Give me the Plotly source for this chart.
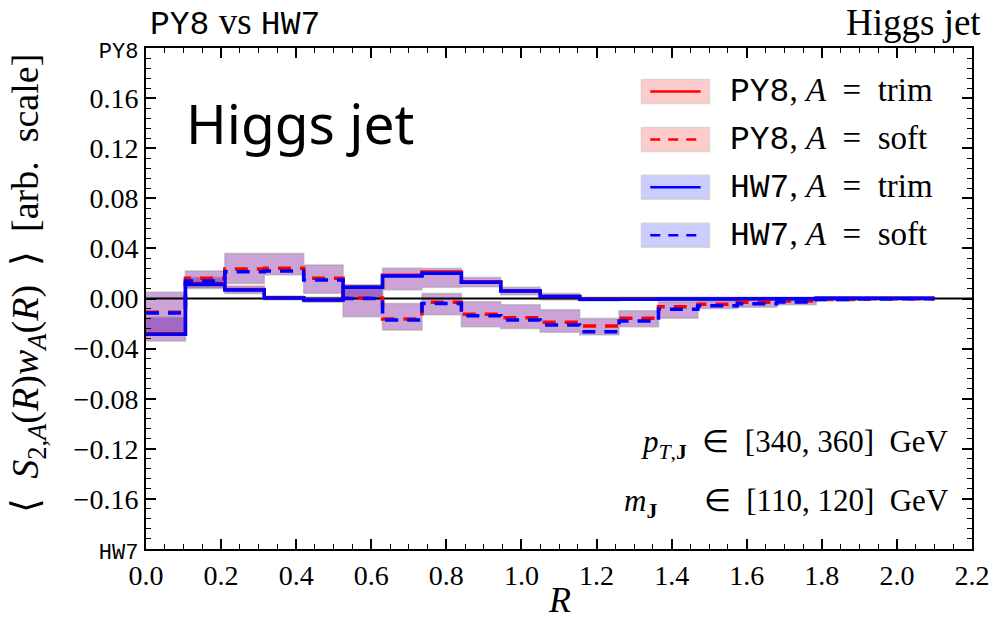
import plotly.graph_objects as go

# ---------------- data ----------------
edges = [0.0, 0.105, 0.21, 0.315, 0.42, 0.525, 0.63, 0.735, 0.84, 0.945, 1.05,
         1.155, 1.26, 1.365, 1.47, 1.575, 1.68, 1.785, 1.89, 1.995, 2.1]

py8_trim = [-0.0280, 0.0120, 0.0072, 0.0005, -0.0010, 0.0090, 0.0185, 0.0212, 0.0133, 0.0062,
            0.0016, -0.0004, -0.0004, -0.0003, -0.0002, -0.0001, -0.0001, 0.0002, 0.0001, 0.0001]
py8_soft = [-0.0110, 0.0161, 0.0235, 0.0241, 0.0161, 0.0003, -0.0163, -0.0030, -0.0126, -0.0153,
            -0.0190, -0.0219, -0.0158, -0.0065, -0.0046, -0.0030, -0.0020, -0.0005, -0.0002, -0.0001]
hw7_trim = [-0.0285, 0.0113, 0.0068, 0.0003, -0.0012, 0.0089, 0.0179, 0.0201, 0.0129, 0.0060,
            0.0015, -0.0005, -0.0005, -0.0004, -0.0003, -0.0002, -0.0001, 0.0002, 0.0001, 0.0001]
hw7_soft = [-0.0116, 0.0139, 0.0214, 0.0219, 0.0147, 0.0000, -0.0171, -0.0039, -0.0137, -0.0171,
            -0.0211, -0.0265, -0.0179, -0.0086, -0.0057, -0.0041, -0.0028, -0.0008, -0.0003, -0.0002]

soft_hi = [0.0050, 0.0220, 0.0360, 0.0360, 0.0267, 0.0090, -0.0040, 0.0040, -0.0025, -0.0050,
           -0.0090, -0.0160, -0.0098, -0.0025, -0.0020, 0.0000, 0.0000, 0.0010, 0.0005, 0.0003]
soft_lo = [-0.0260, 0.0090, 0.0120, 0.0190, 0.0041, -0.0145, -0.0251, -0.0130, -0.0225, -0.0240,
           -0.0270, -0.0290, -0.0225, -0.0158, -0.0080, -0.0070, -0.0050, -0.0020, -0.0010, -0.0010]
trim_hi = [-0.0150, 0.0170, 0.0100, 0.0020, 0.0010, 0.0110, 0.0241, 0.0240, 0.0167, 0.0090,
           0.0040, 0.0010, 0.0010, 0.0010, 0.0010, 0.0010, 0.0010, 0.0010, 0.0010, 0.0010]
trim_lo = [-0.0340, 0.0080, 0.0040, -0.0010, -0.0030, 0.0000, 0.0070, 0.0090, 0.0094, 0.0030,
           -0.0010, -0.0020, -0.0010, -0.0010, -0.0010, -0.0010, -0.0010, -0.0010, -0.0010, -0.0010]

x_range = [0.0, 2.2]
y_range = [-0.2, 0.2]
y_tickvals = [-0.2, -0.16, -0.12, -0.08, -0.04, 0.0, 0.04, 0.08, 0.12, 0.16, 0.2]
MONO = "Liberation Mono"
y_ticktext = [f'<span style="font-family:{MONO};font-size:22px">HW7</span>',
              "\u22120.16", "\u22120.12", "\u22120.08", "\u22120.04", "0.00",
              "0.04", "0.08", "0.12", "0.16",
              f'<span style="font-family:{MONO};font-size:22px">PY8</span>']
x_tickvals = [0.0, 0.2, 0.4, 0.6, 0.8, 1.0, 1.2, 1.4, 1.6, 1.8, 2.0, 2.2]

SERIF = "Liberation Serif"
RED = "rgb(255,0,0)"
BLUE = "rgb(0,0,255)"
RED_BAND = "rgba(255,0,0,0.2)"
BLUE_BAND = "rgba(0,0,255,0.2)"
EDGE = "rgba(170,170,170,0.35)"
SP = "\u2002"


def stepy(vals):
    return list(vals) + [vals[-1]]


fig = go.Figure()

# bands
for col in (RED_BAND, BLUE_BAND):
    for lo, hi in ((soft_lo, soft_hi), (trim_lo, trim_hi)):
        fig.add_trace(go.Scatter(x=edges, y=stepy(lo), mode="lines", line_shape="hv",
                                 line=dict(color=EDGE, width=1.5), showlegend=False,
                                 hoverinfo="skip"))
        fig.add_trace(go.Scatter(x=edges, y=stepy(hi), mode="lines", line_shape="hv",
                                 line=dict(color=EDGE, width=1.5), fill="tonexty",
                                 fillcolor=col, showlegend=False, hoverinfo="skip"))

# zero line
fig.add_trace(go.Scatter(x=x_range, y=[0, 0], mode="lines",
                         line=dict(color="black", width=2.2), showlegend=False, hoverinfo="skip"))

# lines
DASH = "13px,9px"
fig.add_trace(go.Scatter(x=edges, y=stepy(py8_trim), mode="lines", line_shape="hv",
                         line=dict(color=RED, width=3.5), showlegend=False))
fig.add_trace(go.Scatter(x=edges, y=stepy(py8_soft), mode="lines", line_shape="hv",
                         line=dict(color=RED, width=3.5, dash=DASH), showlegend=False))
fig.add_trace(go.Scatter(x=edges, y=stepy(hw7_trim), mode="lines", line_shape="hv",
                         line=dict(color=BLUE, width=3.5), showlegend=False))
fig.add_trace(go.Scatter(x=edges, y=stepy(hw7_soft), mode="lines", line_shape="hv",
                         line=dict(color=BLUE, width=3.5, dash=DASH), showlegend=False))

# -------- manual legend (patch + line) --------
L, R_, T, B = 146, 983, 47.5, 549
W, H = R_ - L, B - T


def px(x):
    return (x - L) / W


def py(y):
    return (B - y) / H


legend_rows = [
    (91, RED_BAND, RED, "solid", "PY8", "trim"),
    (139, RED_BAND, RED, "dash", "PY8", "soft"),
    (187, BLUE_BAND, BLUE, "solid", "HW7", "trim"),
    (235, BLUE_BAND, BLUE, "dash", "HW7", "soft"),
]
shapes = []
annotations = []
for yc, band, col, ls, gen, alg in legend_rows:
    shapes.append(dict(type="rect", xref="paper", yref="paper",
                       x0=px(648), x1=px(717), y0=py(yc + 12), y1=py(yc - 12),
                       fillcolor=band, line=dict(color="rgba(200,200,200,0.6)", width=1.5)))
    shapes.append(dict(type="line", xref="paper", yref="paper",
                       x0=px(657), x1=px(708), y0=py(yc), y1=py(yc),
                       line=dict(color=col, width=2.5, dash=("solid" if ls == "solid" else "10px,8px"))))
    annotations.append(dict(
        xref="paper", yref="paper", x=px(736), y=py(yc), xanchor="left", yanchor="middle",
        showarrow=False,
        text=f'<span style="font-family:{MONO}">{gen}</span>, <i>A</i>{SP}={SP}{alg}',
        font=dict(family=SERIF, size=33, color="black")))

annotations += [
    dict(xref="paper", yref="paper", x=px(148), y=py(22), xanchor="left", yanchor="middle",
         showarrow=False,
         text=f'<span style="font-family:{MONO};font-size:33px">PY8</span> vs <span style="font-family:{MONO};font-size:33px">HW7</span>',
         font=dict(family=SERIF, size=37, color="black")),
    dict(xref="paper", yref="paper", x=px(994), y=py(22), xanchor="right", yanchor="middle",
         showarrow=False, text="Higgs jet", font=dict(family=SERIF, size=37, color="black")),
    dict(xref="paper", yref="paper", x=px(302), y=py(122), xanchor="center", yanchor="middle",
         showarrow=False, text="Higgs jet", font=dict(family="Noto Sans", size=55, color="black")),
    dict(xref="paper", yref="paper", x=px(962), y=py(444), xanchor="right", yanchor="middle",
         showarrow=False,
         text=f"<i>p</i><sub><i>T</i>,<b>J</b></sub>{SP}\u2208{SP}[340, 360]{SP}GeV",
         font=dict(family=SERIF, size=31, color="black")),
    dict(xref="paper", yref="paper", x=px(962), y=py(503), xanchor="right", yanchor="middle",
         showarrow=False,
         text=f"<i>m</i><sub><b>J</b></sub>{SP}{SP}{SP}\u2208{SP}[110, 120]{SP}GeV",
         font=dict(family=SERIF, size=31, color="black")),
    dict(xref="paper", yref="paper", x=px(565), y=py(600), xanchor="center", yanchor="middle",
         showarrow=False, text="<i>R</i>", font=dict(family=SERIF, size=36, color="black")),
    dict(xref="paper", yref="paper", x=px(27), y=py(283), xanchor="center", yanchor="middle",
         showarrow=False, textangle=-90,
         text=f"\u27e8{SP}<i>S</i><sub>2,<i>A</i></sub>(<i>R</i>)<i>w</i><sub><i>A</i></sub>(<i>R</i>){SP}\u27e9{SP}[arb.{SP}scale]",
         font=dict(family=SERIF, size=38, color="black")),
]

fig.update_layout(
    width=1002, height=627, autosize=False,
    margin=dict(l=L, r=1002 - R_, t=T, b=627 - B),
    paper_bgcolor="white", plot_bgcolor="white",
    font=dict(family=SERIF, size=28, color="black"),
    showlegend=False,
    shapes=shapes,
    annotations=annotations,
    xaxis=dict(range=x_range, tickmode="array", tickvals=x_tickvals,
               ticktext=[f"{v:.1f}" for v in x_tickvals],
               ticks="inside", ticklen=10, tickwidth=1.5, tickcolor="black",
               showline=True, linecolor="black", linewidth=2, mirror="allticks",
               showgrid=False, zeroline=False, tickfont=dict(size=28),
               minor=dict(dtick=0.05, tick0=0, ticks="inside", ticklen=5, tickwidth=1,
                          tickcolor="black", showgrid=False)),
    yaxis=dict(range=y_range, tickmode="array", tickvals=y_tickvals, ticktext=y_ticktext,
               ticks="inside", ticklen=10, tickwidth=1.5, tickcolor="black",
               showline=True, linecolor="black", linewidth=2, mirror="allticks",
               showgrid=False, zeroline=False, tickfont=dict(size=28),
               minor=dict(dtick=0.008, tick0=-0.2, ticks="inside", ticklen=5, tickwidth=1,
                          tickcolor="black", showgrid=False)),
)

fig.write_html("out.html")
